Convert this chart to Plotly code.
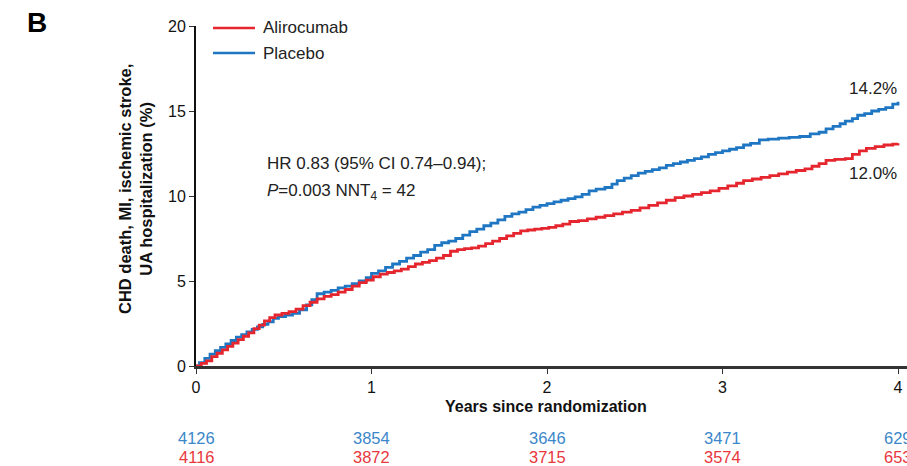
import plotly.graph_objects as go

# ---- data ----
placebo_t = [0.00, 0.02, 0.05, 0.08, 0.11, 0.14, 0.17, 0.20, 0.23, 0.26, 0.29, 0.32, 0.35, 0.38, 0.41, 0.44,
             0.47, 0.51, 0.55, 0.59, 0.63, 0.66, 0.69, 0.73, 0.77, 0.81, 0.85, 0.89, 0.93, 0.97, 1.00, 1.04,
             1.08, 1.12, 1.16, 1.20, 1.24, 1.28, 1.32, 1.36, 1.40, 1.44, 1.48, 1.52, 1.56, 1.60, 1.64, 1.68,
             1.72, 1.76, 1.80, 1.84, 1.88, 1.92, 1.96, 2.00, 2.04, 2.08, 2.12, 2.16, 2.20, 2.24, 2.28, 2.33,
             2.37, 2.40, 2.44, 2.48, 2.52, 2.56, 2.60, 2.64, 2.68, 2.72, 2.76, 2.80, 2.84, 2.88, 2.92, 2.96,
             3.00, 3.04, 3.08, 3.12, 3.16, 3.21, 3.26, 3.32, 3.38, 3.44, 3.50, 3.55, 3.59, 3.63, 3.67, 3.70,
             3.74, 3.77, 3.81, 3.85, 3.89, 3.93, 3.97, 4.00]
placebo_y = [0.0, 0.2, 0.45, 0.7, 0.9, 1.1, 1.3, 1.5, 1.7, 1.85, 2.0, 2.15, 2.3, 2.45, 2.6, 2.8,
             2.9, 3.0, 3.1, 3.3, 3.6, 3.9, 4.25, 4.35, 4.45, 4.6, 4.7, 4.85, 5.0, 5.2, 5.45, 5.6,
             5.8, 6.0, 6.15, 6.35, 6.5, 6.7, 6.85, 7.1, 7.25, 7.35, 7.5, 7.7, 7.9, 8.05, 8.25, 8.4,
             8.6, 8.8, 8.95, 9.05, 9.2, 9.35, 9.45, 9.55, 9.65, 9.75, 9.85, 9.95, 10.1, 10.3, 10.4, 10.5,
             10.7, 10.9, 11.05, 11.2, 11.35, 11.45, 11.55, 11.65, 11.8, 11.9, 12.0, 12.1, 12.2, 12.3, 12.45, 12.55,
             12.65, 12.75, 12.85, 13.0, 13.1, 13.3, 13.35, 13.4, 13.45, 13.5, 13.65, 13.75, 13.95, 14.1, 14.25, 14.4,
             14.55, 14.75, 14.85, 15.0, 15.1, 15.2, 15.4, 15.55]

alirocumab_t = [0.00, 0.03, 0.06, 0.09, 0.12, 0.15, 0.18, 0.21, 0.24, 0.27, 0.30, 0.33, 0.36, 0.39, 0.42, 0.45,
                0.49, 0.53, 0.57, 0.61, 0.65, 0.69, 0.73, 0.77, 0.81, 0.85, 0.89, 0.93, 0.97, 1.01, 1.05, 1.09,
                1.13, 1.17, 1.21, 1.25, 1.29, 1.33, 1.37, 1.41, 1.45, 1.49, 1.53, 1.57, 1.61, 1.65, 1.69, 1.73,
                1.77, 1.81, 1.85, 1.89, 1.93, 1.97, 2.01, 2.05, 2.09, 2.13, 2.18, 2.23, 2.28, 2.33, 2.38, 2.43,
                2.48, 2.53, 2.58, 2.63, 2.68, 2.73, 2.78, 2.83, 2.88, 2.93, 2.98, 3.03, 3.08, 3.12, 3.17, 3.22,
                3.27, 3.32, 3.37, 3.42, 3.47, 3.51, 3.55, 3.59, 3.64, 3.70, 3.74, 3.78, 3.82, 3.87, 3.92, 3.97, 4.00]
alirocumab_y = [0.0, 0.15, 0.3, 0.55, 0.75, 0.95, 1.15, 1.35, 1.55, 1.75, 1.95, 2.2, 2.4, 2.65, 2.85, 3.0,
                3.1, 3.2, 3.35, 3.55, 3.75, 3.95, 4.1, 4.2, 4.35, 4.5, 4.7, 4.9, 5.05, 5.25, 5.4, 5.5,
                5.6, 5.7, 5.85, 6.0, 6.1, 6.2, 6.35, 6.5, 6.75, 6.85, 6.9, 6.95, 7.05, 7.2, 7.35, 7.5,
                7.65, 7.8, 7.95, 8.0, 8.05, 8.1, 8.15, 8.25, 8.35, 8.5, 8.55, 8.65, 8.75, 8.85, 8.95, 9.05,
                9.15, 9.3, 9.45, 9.6, 9.75, 9.9, 10.0, 10.1, 10.2, 10.3, 10.45, 10.6, 10.75, 10.9, 11.0, 11.1,
                11.2, 11.3, 11.4, 11.5, 11.6, 11.75, 11.9, 12.1, 12.15, 12.2, 12.45, 12.65, 12.8, 12.9, 13.0, 13.05, 13.1]

at_risk_years = [0, 1, 2, 3, 4]
placebo_at_risk = [4126, 3854, 3646, 3471, 629]
alirocumab_at_risk = [4116, 3872, 3715, 3574, 653]

x_ticks = [0, 1, 2, 3, 4]
y_ticks = [0, 5, 10, 15, 20]

RED = "#e6262e"
BLUE = "#1f77c4"
RED_TXT = "#e8373d"
BLUE_TXT = "#3b87c9"
FONT = "Liberation Sans, Arial, sans-serif"

W, H = 907, 466
L, R, T, B = 196, 0, 26, 100
plot_w = W - L - R
plot_h = H - T - B


def px_x(px):
    return (px - L) / plot_w


def px_y(py):
    return (H - B - py) / plot_h


fig = go.Figure()
fig.add_trace(go.Scatter(x=placebo_t, y=placebo_y, mode="lines", line=dict(color=BLUE, width=2.8, shape="hv"),
                         name="Placebo", showlegend=False, cliponaxis=False))
fig.add_trace(go.Scatter(x=alirocumab_t, y=alirocumab_y, mode="lines", line=dict(color=RED, width=2.8, shape="hv"),
                         name="Alirocumab", showlegend=False, cliponaxis=False))

annotations = []
shapes = []

# manual legend
for label, color, py in [("Alirocumab", RED, 28), ("Placebo", BLUE, 53)]:
    shapes.append(dict(type="line", xref="paper", yref="paper", x0=px_x(213), x1=px_x(255),
                       y0=px_y(py), y1=px_y(py), line=dict(color=color, width=2.6)))
    annotations.append(dict(text=label, xref="paper", yref="paper", x=px_x(261), y=px_y(py),
                            xanchor="left", yanchor="middle", showarrow=False,
                            font=dict(family=FONT, size=17, color="#222")))

# HR text
annotations.append(dict(text="HR 0.83 (95% CI 0.74\u20130.94);", xref="paper", yref="paper",
                        x=px_x(265), y=px_y(163), xanchor="left", yanchor="middle", showarrow=False,
                        font=dict(family=FONT, size=17, color="#222")))
annotations.append(dict(text="<i>P</i>=0.003 NNT<sub>4</sub> = 42", xref="paper", yref="paper",
                        x=px_x(265), y=px_y(192), xanchor="left", yanchor="middle", showarrow=False,
                        font=dict(family=FONT, size=17, color="#222")))

# end labels
annotations.append(dict(text="14.2%", xref="paper", yref="paper", x=px_x(899), y=px_y(88),
                        xanchor="right", yanchor="middle", showarrow=False,
                        font=dict(family=FONT, size=17, color="#222")))
annotations.append(dict(text="12.0%", xref="paper", yref="paper", x=px_x(899), y=px_y(173),
                        xanchor="right", yanchor="middle", showarrow=False,
                        font=dict(family=FONT, size=17, color="#222")))

# panel letter
annotations.append(dict(text="<b>B</b>", xref="paper", yref="paper", x=px_x(37), y=px_y(22),
                        xanchor="center", yanchor="middle", showarrow=False,
                        font=dict(family=FONT, size=28, color="#000")))

# y title (two lines)
annotations.append(dict(text="<b>CHD death, MI, ischemic stroke,<br>UA hospitalization (%)</b>",
                        xref="paper", yref="paper", x=px_x(135), y=px_y(189), textangle=-90,
                        xanchor="center", yanchor="middle", showarrow=False,
                        font=dict(family=FONT, size=16.5, color="#111")))

# x title
annotations.append(dict(text="<b>Years since randomization</b>", xref="paper", yref="paper",
                        x=px_x(546), y=px_y(406), xanchor="center", yanchor="middle", showarrow=False,
                        font=dict(family=FONT, size=16, color="#111")))

# numbers at risk
for yr, pb, al in zip(at_risk_years, placebo_at_risk, alirocumab_at_risk):
    annotations.append(dict(text=str(pb), xref="x", yref="paper", x=yr, y=px_y(438),
                            xanchor="center", yanchor="middle", showarrow=False,
                            font=dict(family=FONT, size=16.5, color=BLUE_TXT)))
    annotations.append(dict(text=str(al), xref="x", yref="paper", x=yr, y=px_y(457),
                            xanchor="center", yanchor="middle", showarrow=False,
                            font=dict(family=FONT, size=16.5, color=RED_TXT)))

x_max = 4 * (plot_w) / (898 - L)

fig.update_layout(
    width=W, height=H,
    margin=dict(l=L, r=R, t=T, b=B),
    paper_bgcolor="white", plot_bgcolor="white",
    showlegend=False,
    annotations=annotations,
    shapes=shapes,
    font=dict(family=FONT, color="#111"),
    xaxis=dict(range=[0, x_max], tickvals=x_ticks, ticktext=[str(v) for v in x_ticks],
               showgrid=False, zeroline=False, showline=True, linecolor="#333", linewidth=2.5,
               ticks="outside", ticklen=5, tickwidth=1.2, tickcolor="#333",
               tickfont=dict(family=FONT, size=16, color="#111")),
    yaxis=dict(range=[0, 20], tickvals=y_ticks, ticktext=[str(v) for v in y_ticks],
               showgrid=False, zeroline=False, showline=True, linecolor="#111", linewidth=2,
               ticks="outside", ticklen=5, tickwidth=1.2, tickcolor="#333",
               tickfont=dict(family=FONT, size=16, color="#111")),
)

fig.write_html("out.html")
